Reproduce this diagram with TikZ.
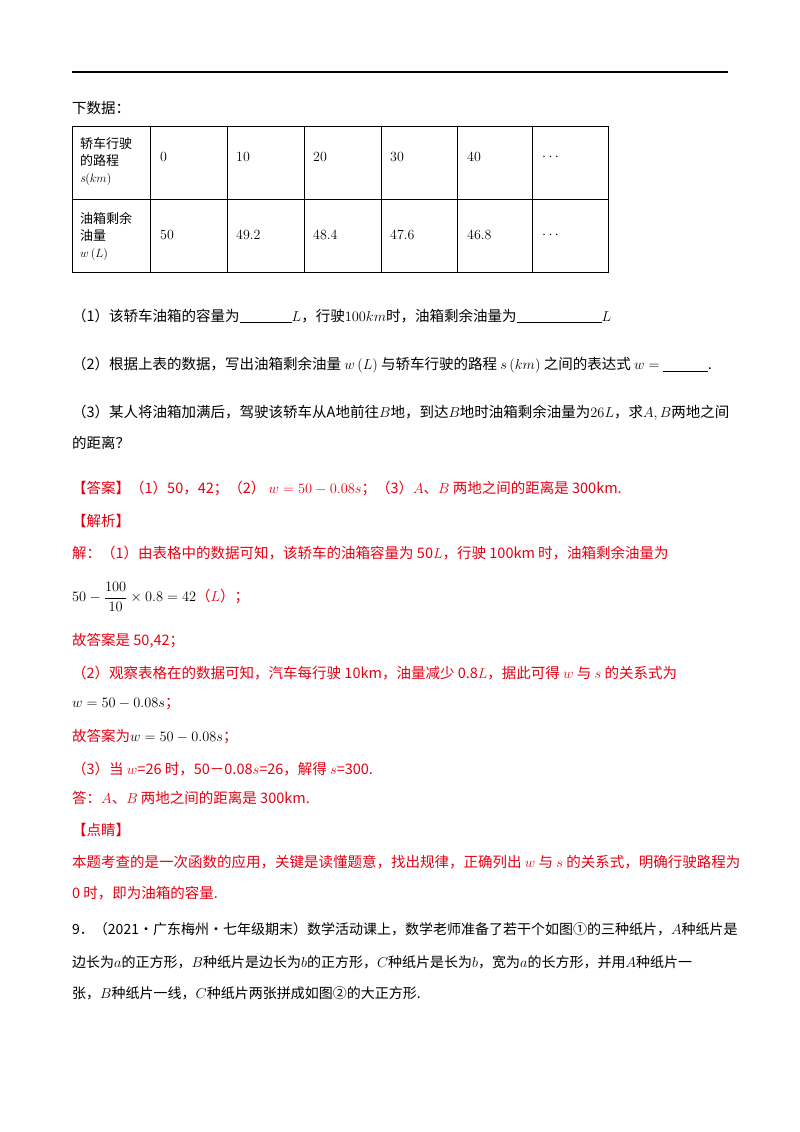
\documentclass[tikz,border=0pt]{standalone}
\usepackage{fontspec}
\newfontfamily\cjk{Noto Sans CJK SC}
\definecolor{ansred}{RGB}{228,0,18}
\begin{document}
\begin{tikzpicture}[x=1pt,y=-1pt,
  t/.style={anchor=west,inner sep=0pt,font=\cjk\fontsize{14.5}{17}\selectfont},
  r/.style={t,text=ansred},
  c/.style={inner sep=0pt,font=\fontsize{14}{15}\selectfont}]
\useasboundingbox (0,0) rectangle (800,1132);
\draw[line width=1.6pt] (72,72) -- (728,72);
\node[t] (h) at (72,108) {下数据：};
% table
\draw[line width=0.8pt] (72,126) rectangle (608,272);
\draw[line width=0.8pt] (72,199) -- (608,199);
\foreach \x in {150,227,304,381,457,532} \draw[line width=0.8pt] (\x,126) -- (\x,272);
\node[t,align=left,font=\cjk\fontsize{13}{17}\selectfont] (r1) at (80,162) {轿车行驶\\的路程\\{\rmfamily\itshape s}$\left(km\right)$};
\node[t,align=left,font=\cjk\fontsize{13}{17}\selectfont] (r2) at (80,236) {油箱剩余\\油量\\$w\left(L\right)$};
\foreach \v/\x in {0/160,10/236,20/313,30/390,40/467,{$\cdots$}/542} \node[c,anchor=west] at (\x,157) {\v};
\foreach \v/\x in {50/160,49.2/236,48.4/313,47.6/390,46.8/467,{$\cdots$}/542} \node[c,anchor=west] at (\x,235) {\v};
\node[t] (q1) at (72,316) {（1）该轿车油箱的容量为\underline{\hspace{52pt}}$L$，行驶$100km$时，油箱剩余油量为\underline{\hspace{85pt}}$L$};
\node[t] (q2) at (72,365) {（2）根据上表的数据，写出油箱剩余油量 $w\left(L\right)$ 与轿车行驶的路程 $s\left(km\right)$ 之间的表达式 $w=$ \underline{\hspace{45pt}}.};
\node[t] (q3) at (72,413) {（3）某人将油箱加满后，驾驶该轿车从A地前往$B$地，到达$B$地时油箱剩余油量为$26L$，求$A,B$两地之间};
\node[t] (q3b) at (72,443) {的距离？};
\node[r] (a0) at (72,488) {【答案】（1）50，42；（2） $w=50-0.08s$；（3）$A$、$B$ 两地之间的距离是 300km.};
\node[r] (a1) at (72,521) {【解析】};
\node[r] (a2) at (72,553) {解：（1）由表格中的数据可知，该轿车的油箱容量为 50$L$，行驶 100km 时，油箱剩余油量为};
\node[r] (a3) at (72,597) {\color{black}$\displaystyle 50-\frac{100}{10}\times0.8=42$\color{ansred}（$L$）；};
\node[r] (a4) at (72,641) {故答案是 50,42；};
\node[r] (a5) at (72,673) {（2）观察表格在的数据可知，汽车每行驶 10km，油量减少 0.8$L$，据此可得 $w$ 与 $s$ 的关系式为};
\node[r] (a6) at (72,704) {\color{black}$w=50-0.08s$\color{ansred}；};
\node[r] (a7) at (72,737) {故答案为\color{black}$w=50-0.08s$\color{ansred}；};
\node[r] (a8) at (72,769) {（3）当 $w$=26 时，50－0.08$s$=26，解得 $s$=300.};
\node[r] (a9) at (72,798) {答：$A$、$B$ 两地之间的距离是 300km.};
\node[r] (a10) at (72,830) {【点睛】};
\node[r] (a11) at (72,862) {本题考查的是一次函数的应用，关键是读懂题意，找出规律，正确列出 $w$ 与 $s$ 的关系式，明确行驶路程为};
\node[r] (a12) at (72,893) {0 时，即为油箱的容量.};
\node[t,font=\cjk\fontsize{14}{17}\selectfont] (p1) at (72,929) {9．（2021·广东梅州·七年级期末）数学活动课上，数学老师准备了若干个如图①的三种纸片，$A$种纸片是};
\node[t,font=\cjk\fontsize{14}{17}\selectfont] (p2) at (72,962) {边长为$a$的正方形，$B$种纸片是边长为$b$的正方形，$C$种纸片是长为$b$，宽为$a$的长方形，并用$A$种纸片一};
\node[t,font=\cjk\fontsize{14}{17}\selectfont] (p3) at (72,993) {张，$B$种纸片一线，$C$种纸片两张拼成如图②的大正方形.};
\end{tikzpicture}
\end{document}
